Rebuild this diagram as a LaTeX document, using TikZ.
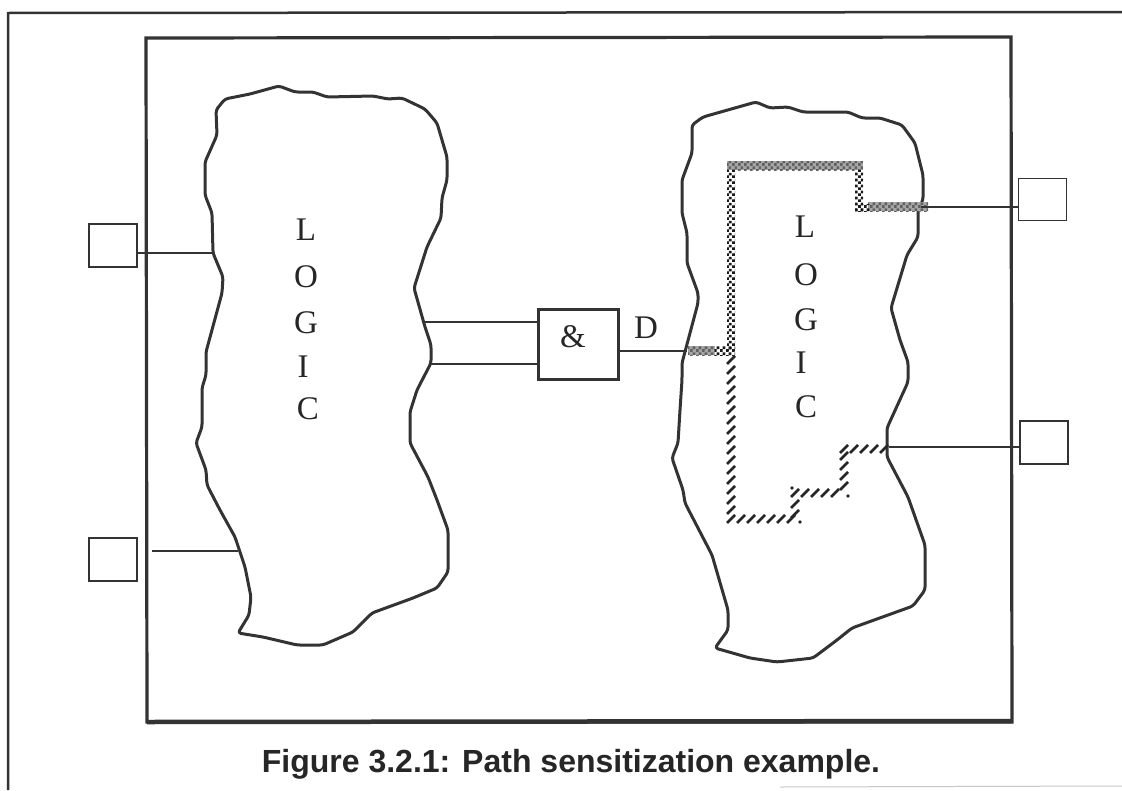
\documentclass[tikz,border=0pt]{standalone}
\usepackage{fontspec}
\setmainfont{Liberation Serif}
\newfontfamily\capfont{Liberation Sans}
\usetikzlibrary{patterns}
\pgfdeclarepatternformonly{bigcheck}{\pgfqpoint{0pt}{0pt}}{\pgfqpoint{6pt}{6pt}}{\pgfqpoint{6pt}{6pt}}{%
  \pgfpathrectangle{\pgfqpoint{0pt}{0pt}}{\pgfqpoint{3pt}{3pt}}%
  \pgfpathrectangle{\pgfqpoint{3pt}{3pt}}{\pgfqpoint{3pt}{3pt}}%
  \pgfusepath{fill}}
\tikzset{
  ink/.style={draw=black!80},
  frame/.style={ink,line width=3.2pt},
  blob/.style={ink,line width=3pt,line join=round,rounded corners=3pt,fill=white},
  port/.style={ink,line width=1.5pt,minimum width=48pt,minimum height=43pt,inner sep=0,fill=white},
  wire/.style={ink,line width=2pt},
  letter/.style={font=\fontsize{33}{33}\selectfont,text=black!85,inner sep=0},
  capt/.style={font=\capfont\bfseries\fontsize{32}{32}\selectfont,text=black!85,inner sep=0},
  checkseg/.style={pattern=bigcheck,pattern color=black!90},
  greybase/.style={fill=black!35},
  greyseg/.style={pattern=bigcheck,pattern color=black!62},
  hatchmark/.style={draw=black!85,line width=2.5pt},
  hatchdot/.style={fill=black!85},
}
\begin{document}
\begin{tikzpicture}[x=1pt,y=-1pt]
\useasboundingbox (0,0) rectangle (1122,790);
\fill[white] (0,0) rectangle (1122,790);
% page frame
\draw[ink,line width=2.5pt] (8,790) -- (8,13) -- (1122,12);
\draw[black!22,line width=1pt] (780,787) -- (1122,786);
% outer frame
\draw[frame] (146,38) -- (1011,37) -- (1012,722) -- (147,722) -- cycle;
\draw[ink,line width=4.5pt] (147,722) -- (1012,721);
% left blob
\draw[blob] (216,110) -- (225,99) -- (250,94) -- (279,86) -- (295,92) -- (313,92) -- (327,97) -- (373,96) -- (388,99) -- (402,98) -- (425,109) -- (437,123) -- (447,157) -- (447,180) -- (442,198) -- (441,218) -- (427,247) -- (414,288) -- (425,327) -- (431,345) -- (431,363) -- (417,390) -- (410,412) -- (410,443) -- (428,477) -- (437,500) -- (448,530) -- (448,572) -- (437,588) -- (413,598) -- (372,613) -- (353,632) -- (323,645) -- (297,645) -- (263,637) -- (238,633) -- (249,615) -- (251,597) -- (245,567) -- (235,537) -- (220,510) -- (207,485) -- (206,470) -- (196,443) -- (202,427) -- (202,388) -- (206,375) -- (206,352) -- (222,293) -- (223,277) -- (213,253) -- (212,213) -- (205,195) -- (205,162) -- (217,135) -- cycle;
% right blob
\draw[blob] (692,125) -- (703,117) -- (756,102) -- (770,108) -- (788,107) -- (803,112) -- (848,112) -- (862,118) -- (880,118) -- (902,125) -- (915,143) -- (923,175) -- (923,200) -- (918,210) -- (918,237) -- (907,255) -- (891,308) -- (900,340) -- (908,362) -- (908,382) -- (887,428) -- (887,457) -- (908,497) -- (925,545) -- (925,590) -- (913,606) -- (852,628) -- (837,640) -- (813,658) -- (777,662) -- (750,658) -- (715,648) -- (728,630) -- (728,610) -- (712,555) -- (685,503) -- (683,490) -- (672,458) -- (678,443) -- (680,410) -- (682,380) -- (682,363) -- (698,303) -- (698,293) -- (687,263) -- (687,233) -- (682,213) -- (682,180) -- (692,153) -- cycle;
% sensitized path, grey runs
\path[greybase] (727,161) rectangle (863,170);
\path[greyseg] (727,161) rectangle (863,170);
\path[greybase] (868,202) rectangle (928,211);
\path[greyseg] (868,202) rectangle (928,211);
\path[greybase] (688,346) rectangle (715,355);
\path[greyseg] (688,346) rectangle (715,355);
% sensitized path, chequered runs
\path[checkseg] (727,170) rectangle (735,350);
\path[checkseg] (855,170) rectangle (863,211);
\path[checkseg] (855,204) rectangle (870,211);
\path[checkseg] (715,346) rectangle (735,355);
% blocked path, hatched runs
\foreach \y in {360,370,...,510} \draw[hatchmark] (727,\y+4) -- (735,\y-4);
\foreach \x in {727,737,...,787} \draw[hatchmark] (\x,523) -- (\x+8,515);
\foreach \y in {514,504} \draw[hatchmark] (791,\y+4) -- (799,\y-4);
\foreach \x in {791,801,...,831} \draw[hatchmark] (\x,497) -- (\x+8,489);
\foreach \y in {486,476,466,456} \draw[hatchmark] (840,\y+4) -- (848,\y-4);
\foreach \x in {840,850,...,880} \draw[hatchmark] (\x,453) -- (\x+8,445);
\fill[hatchdot] (800,522) circle (1.8);
\fill[hatchdot] (792,488) circle (1.8);
\fill[hatchdot] (848,496) circle (1.8);
% boxes
\node[port] (p1) at (113,245.5) {};
\node[port,line width=2pt] (p2) at (113,559.5) {};
\node[port,minimum height=42pt] (p3) at (1042.5,199.5) {};
\node[port] (p4) at (1044,442.5) {};
\node[ink,line width=3pt,minimum width=80pt,minimum height=70pt,inner sep=0,fill=white] (gate) at (578,344) {};
% blob contact points
\coordinate (b1) at (214,253);
\coordinate (b2) at (238,551);
\coordinate (b3) at (425,322);
\coordinate (b4) at (430,364);
\coordinate (b5) at (687,351);
\coordinate (b6) at (921,207);
\coordinate (b7) at (889,447);
\coordinate (w2) at (152,551);
% wires
\draw[wire] (p1.east |- b1) -- (b1);
\draw[wire] (w2) -- (b2);
\draw[wire] (b3) -- (gate.west |- b3);
\draw[wire] (b4) -- (gate.west |- b4);
\draw[wire] (gate.east |- b5) -- (b5);
\draw[wire] (b6) -- (p3.west |- b6);
\draw[wire] (b7) -- (p4.west |- b7);
% labels
\node[letter] (amp) at (573,337) {\&};
\node[letter] (D) at (646,328) {D};
\node[letter] (l1) at (306,230) {L};
\node[letter] (l2) at (306,277) {O};
\node[letter] (l3) at (306,323) {G};
\node[letter] (l4) at (303,367) {I};
\node[letter] (l5) at (308,409) {C};
\node[letter] (r1) at (805,227) {L};
\node[letter] (r2) at (806,275) {O};
\node[letter] (r3) at (806,320) {G};
\node[letter] (r4) at (801,363) {I};
\node[letter] (r5) at (806,407) {C};
\node[capt] (cap) at (571,764) {Figure 3.2.1: Path sensitization example.};
\end{tikzpicture}
\end{document}
